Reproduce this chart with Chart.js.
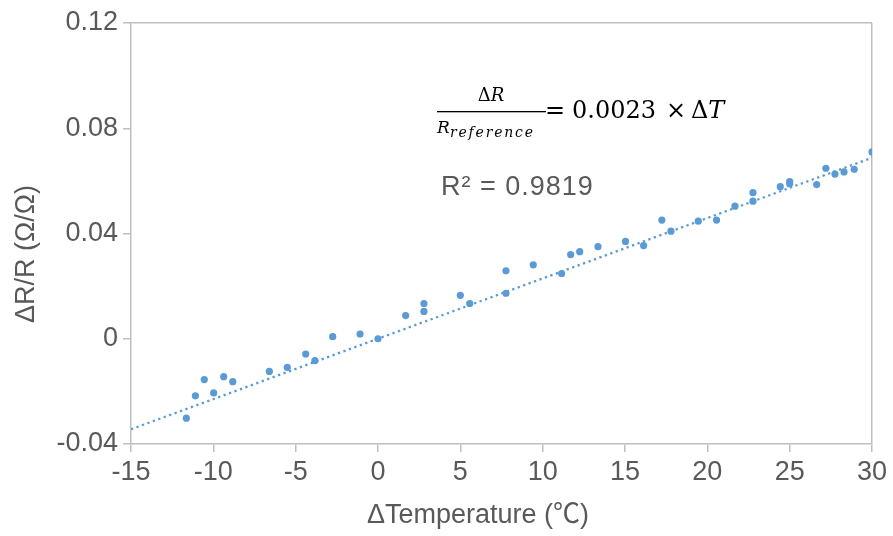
<!DOCTYPE html>
<html>
<head>
<meta charset="utf-8">
<script src="https://cdn.jsdelivr.net/npm/chart.js@4/dist/chart.umd.min.js"></script>
<style>
html,body{margin:0;padding:0;background:#fff;}
#wrap{width:893px;height:536px;position:relative;}
</style>
</head>
<body>
<div id="wrap"><canvas id="c" width="893" height="536"></canvas></div>
<script>
// ---- data ----
const tempDelta = [-11.64, -11.09, -10.55, -9.98, -9.37, -8.82, -6.60, -5.51, -4.39, -3.83,
  -2.75, -1.09, 0, 1.68, 2.79, 2.79, 5.00, 5.57, 7.77, 7.77,
  9.43, 11.15, 11.70, 12.25, 13.36, 15.03, 16.13, 17.24, 17.79, 19.45,
  20.56, 21.68, 22.77, 22.77, 24.43, 25.00, 25.00, 26.64, 27.20, 27.75,
  28.30, 28.92, 30.00];
const resistanceRatio = [-0.0302, -0.0217, -0.0155, -0.0206, -0.0144, -0.0163, -0.0124, -0.0109, -0.0058, -0.0083,
  0.0008, 0.0018, 0.0000, 0.0088, 0.0134, 0.0104, 0.0165, 0.0134, 0.0258, 0.0173,
  0.0281, 0.0248, 0.0320, 0.0331, 0.0350, 0.0370, 0.0354, 0.0451, 0.0409, 0.0447,
  0.0451, 0.0504, 0.0555, 0.0523, 0.0578, 0.0597, 0.0589, 0.0586, 0.0648, 0.0626,
  0.0634, 0.0644, 0.0710];
const trendX = [-15, 30];
const trendY = [-0.0344, 0.0688];
const xTicks = [-15, -10, -5, 0, 5, 10, 15, 20, 25, 30];
const yTicks = [-0.04, 0, 0.04, 0.08, 0.12];
const yTickLabels = ['-0.04', '0', '0.04', '0.08', '0.12'];
const xTitle = 'ΔTemperature (℃)';
const yTitle = 'ΔR/R (Ω/Ω)';
const r2Text = 'R² = 0.9819';

const GRAY = '#595959';
const AXIS = '#bfbfbf';
const BLUE = '#5b9bd5';
const SANS = '"Liberation Sans", Arial, "Noto Sans CJK SC", sans-serif';
const SERIF = '"DejaVu Serif", "Liberation Serif", serif';

const annotations = {
  id: 'annotations',
  afterDraw(chart) {
    const ctx = chart.ctx;
    ctx.save();
    ctx.fillStyle = GRAY;
    // axis titles
    ctx.font = '27px ' + SANS;
    ctx.textAlign = 'center';
    ctx.textBaseline = 'middle';
    ctx.fillText(xTitle, 478, 516);
    ctx.save();
    ctx.translate(27, 254);
    ctx.rotate(-Math.PI / 2);
    ctx.fillText(yTitle, 0, 0);
    ctx.restore();
    // R squared
    ctx.textAlign = 'left';
    ctx.textBaseline = 'alphabetic';
    ctx.font = '27px ' + SANS;
    ctx.letterSpacing = '1px';
    ctx.fillText(r2Text, 441, 195);
    ctx.letterSpacing = '0px';
    // formula
    ctx.fillStyle = '#000';
    ctx.font = '18px ' + SERIF;
    const wD = ctx.measureText('Δ').width;
    ctx.font = 'italic 18px ' + SERIF;
    const wR = ctx.measureText('R').width;
    let nx = 491 - (wD + wR) / 2;
    ctx.font = '18px ' + SERIF;
    ctx.fillText('Δ', nx, 101);
    ctx.font = 'italic 18px ' + SERIF;
    ctx.fillText('R', nx + wD, 101);
    // fraction bar
    ctx.fillRect(437, 111, 109, 1.3);
    // denominator
    ctx.font = 'italic 17px ' + SERIF;
    ctx.fillText('R', 437, 133);
    ctx.font = 'italic 14px ' + SERIF;
    ctx.letterSpacing = '1.8px';
    ctx.fillText('reference', 450, 137);
    ctx.letterSpacing = '0px';
    // right side
    ctx.font = '24px ' + SERIF;
    ctx.fillText('=', 545, 118);
    ctx.fillText('0.0023', 572, 118);
    ctx.fillText('×', 666, 118);
    ctx.fillText('Δ', 691, 118);
    const wD2 = ctx.measureText('Δ').width;
    ctx.font = 'italic 24px ' + SERIF;
    ctx.fillText('T', 691 + wD2, 118);
    ctx.restore();
  }
};

new Chart(document.getElementById('c'), {
  type: 'scatter',
  data: {
    datasets: [
      {
        label: 'trend',
        data: trendX.map((x, i) => ({ x: x, y: trendY[i] })),
        showLine: true,
        borderColor: BLUE,
        borderWidth: 2.3,
        borderDash: [2.3, 3.5],
        pointRadius: 0,
        fill: false,
        order: 0
      },
      {
        label: 'ΔR/R',
        data: tempDelta.map((x, i) => ({ x: x, y: resistanceRatio[i] })),
        backgroundColor: BLUE,
        borderColor: BLUE,
        borderWidth: 0,
        pointRadius: 3.6,
        order: 1
      }
    ]
  },
  options: {
    responsive: false,
    animation: false,
    devicePixelRatio: 1,
    layout: { padding: { top: 23, right: 21, left: 0, bottom: 0 } },
    plugins: { legend: { display: false }, tooltip: { enabled: false } },
    scales: {
      x: {
        type: 'linear',
        min: -15, max: 30,
        afterBuildTicks: s => { s.ticks = xTicks.map(v => ({ value: v })); },
        afterFit: s => { s.height = 92; },
        ticks: { color: GRAY, font: { size: 27, family: SANS }, padding: 4, maxRotation: 0, autoSkip: false },
        grid: {
          drawOnChartArea: true,
          color: c => (c.tick && c.tick.value === 30) ? AXIS : 'rgba(0,0,0,0)',
          tickColor: AXIS,
          tickLength: 8,
          lineWidth: 1.5
        },
        border: { color: AXIS, width: 1.5 }
      },
      y: {
        type: 'linear',
        min: -0.04, max: 0.12,
        afterBuildTicks: s => { s.ticks = yTicks.map(v => ({ value: v })); },
        afterFit: s => { s.width = 131; },
        ticks: { color: GRAY, font: { size: 27, family: SANS }, padding: 5, autoSkip: false,
          callback: (v, i) => yTickLabels[i] },
        grid: {
          drawOnChartArea: true,
          color: c => (c.tick && c.tick.value === 0.12) ? AXIS : 'rgba(0,0,0,0)',
          tickColor: AXIS,
          tickLength: 8,
          lineWidth: 1.5
        },
        border: { color: AXIS, width: 1.5 }
      }
    }
  },
  plugins: [annotations]
});
</script>
</body>
</html>
